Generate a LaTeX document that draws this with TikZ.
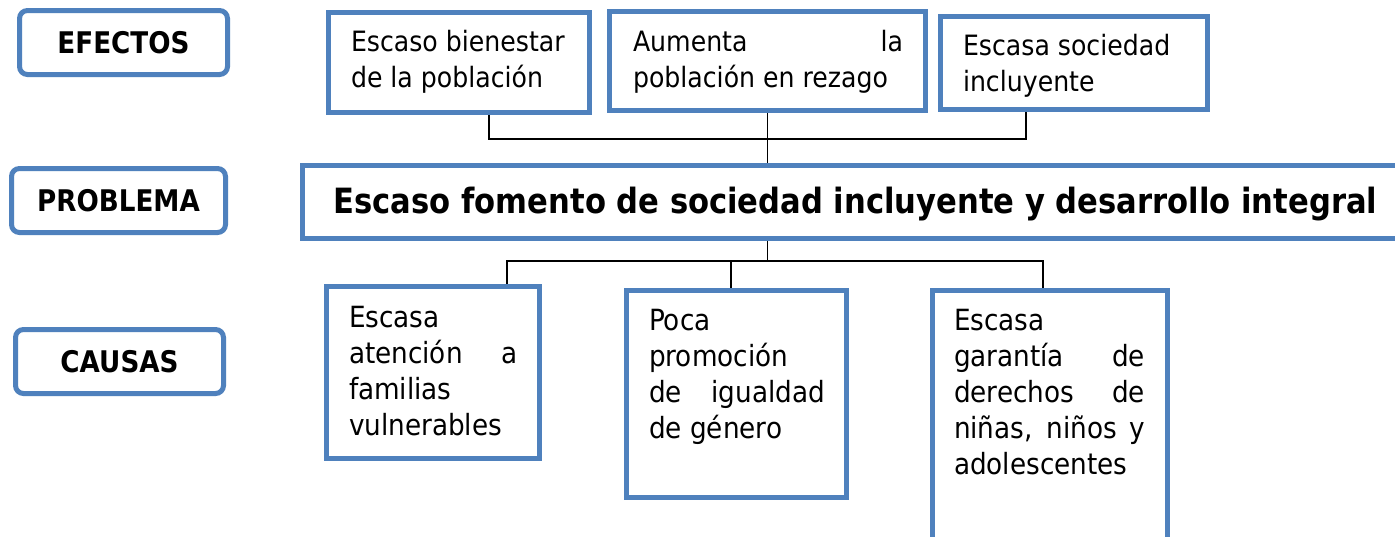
\documentclass[tikz,border=0pt]{standalone}
\usepackage{fontspec}
\setmainfont{DejaVu Sans}[FakeStretch=0.9]
\newfontfamily\hdfont{DejaVu Sans}[FakeStretch=0.88]
\usetikzlibrary{backgrounds}
\definecolor{ublue}{RGB}{79,129,189}
\tikzset{
  box/.style={draw=ublue, line width=5pt, inner sep=0pt, outer sep=0pt},
  lbl/.style={box, rounded corners=8pt, font={\hdfont\bfseries\fontsize{29.8pt}{36pt}\selectfont}},
  conn/.style={draw=black, line width=1.9pt},
  txt/.style={inner sep=0pt, outer sep=0pt, anchor=base west},
  efx/.style={txt, font={\fontsize{28pt}{36pt}\selectfont}},
  cau/.style={txt, font={\fontsize{29.2pt}{36pt}\selectfont}},
}
\newcommand{\jl}[1]{\makebox[\linewidth][s]{#1}}
\begin{document}
\begin{tikzpicture}[x=1pt,y=-1pt]
\useasboundingbox (0,0) rectangle (1395,536);
\begin{scope}[on background layer]
  \fill[white] (0,0) rectangle (1395,536);
\end{scope}
\clip (0,0) rectangle (1395,536);

% left labels
\node[lbl, minimum width=208pt, minimum height=64pt] (efectos) at (123.5,42.5) {EFECTOS};
\node[lbl, minimum width=214pt, minimum height=64pt] (problema) at (118.5,200.5) {PROBLEMA};
\node[lbl, minimum width=208pt, minimum height=64pt] (causas) at (119.5,361.5) {CAUSAS};

% effects
\node[box, minimum width=261.5pt, minimum height=100.5pt] (e1) at (459,62.5) {};
\node[box, minimum width=315.5pt, minimum height=99.5pt] (e2) at (767.5,61) {};
\node[box, minimum width=267.5pt, minimum height=93.5pt] (e3) at (1074,63) {};

\node[efx] (e1t) at (351,51) {\begin{minipage}[t]{240pt}Escaso bienestar\\de la población\end{minipage}};
\node[efx] (e2t) at (633,51) {\begin{minipage}[t]{270pt}\jl{Aumenta la}\\población en rezago\end{minipage}};
\node[efx] (e3t) at (963,55) {\begin{minipage}[t]{240pt}Escasa sociedad\\incluyente\end{minipage}};

% problem
\node[box, minimum width=1117.5pt, minimum height=73.5pt] (prob) at (861.25,201.75) {};
\node[txt, anchor=base, font={\hdfont\bfseries\fontsize{34.8pt}{40pt}\selectfont}] (title) at (855.5,213) {Escaso fomento de sociedad incluyente y desarrollo integral};

% causes
\node[box, minimum width=213.5pt, minimum height=172.5pt] (c1) at (433,372.5) {};
\node[box, minimum width=220.5pt, minimum height=207.5pt] (c2) at (736.5,394) {};
\node[box, minimum width=235.5pt, minimum height=269.75pt] (c3) at (1050,425.125) {};

\node[cau] (c1t) at (349,327) {\begin{minipage}[t]{169pt}Escasa\\\jl{atención a}\\familias\\vulnerables\end{minipage}};
\node[cau] (c2t) at (649,330) {\begin{minipage}[t]{176pt}Poca\\promoción\\\jl{de igualdad}\\de género\end{minipage}};
\node[cau] (c3t) at (954,330) {\begin{minipage}[t]{191pt}Escasa\\\jl{garantía de}\\\jl{derechos de}\\\jl{niñas, niños y}\\adolescentes\end{minipage}};

% connectors
\begin{scope}[on background layer]
  \draw[conn] ([xshift=30pt]e1.south) -- ++(0,26.25) -| ([xshift=-48pt]e3.south);
  \draw[conn] (e2.south) -- (e2.south |- prob.north);
  \draw[conn] (e2.south |- prob.south) -- ++(0,22.5) coordinate (cj);
  \draw[conn] ([xshift=74pt]c1.north) |- (cj) -| ([xshift=-7pt]c3.north);
  \draw[conn] ([xshift=-5.5pt]c2.north) -- ([xshift=-5.5pt]c2.north |- cj);
\end{scope}
\end{tikzpicture}
\end{document}
